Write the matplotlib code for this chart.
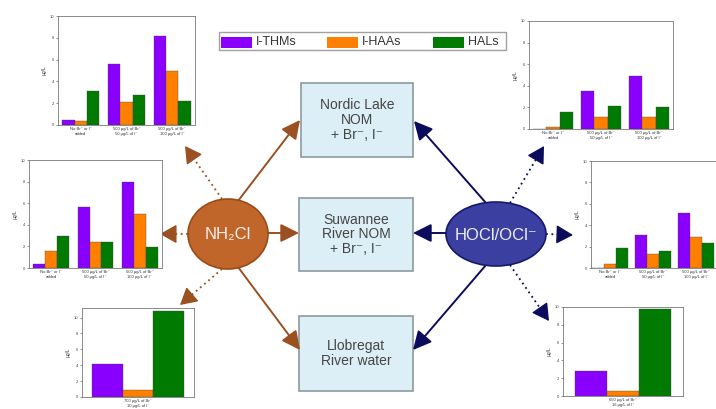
"""
plot.py
Formation of iodinated DBPs: NH2Cl vs HOCl/OCl- for three source waters.
"""
import matplotlib
matplotlib.use("Agg")
import matplotlib.pyplot as plt
from matplotlib.patches import Rectangle, Ellipse

plt.rcParams["font.family"] = ["Liberation Sans", "DejaVu Sans"]

W, H = 716, 409

# ---- data (ug/L) ----
series = ["I-THMs", "I-HAAs", "HALs"]
colors = ["#8A00FF", "#FF8000", "#007A00"]
groups = ["No Br\u207b or I\u207b\nadded",
          "500 \u00b5g/L of Br\u207b\n50 \u00b5g/L of I\u207b",
          "500 \u00b5g/L of Br\u207b\n100 \u00b5g/L of I\u207b"]
llob_nh2cl_label = ["700 \u00b5g/L of Br\u207b\n10 \u00b5g/L of I\u207b"]
llob_hocl_label = ["650 \u00b5g/L of Br\u207b\n16 \u00b5g/L of I\u207b"]

nh2cl_nordic_thm = [0.5, 5.6, 8.2]
nh2cl_nordic_haa = [0.4, 2.1, 5.0]
nh2cl_nordic_hal = [3.15, 2.75, 2.2]

hocl_nordic_thm = [0.0, 3.5, 4.95]
hocl_nordic_haa = [0.15, 1.1, 1.15]
hocl_nordic_hal = [1.6, 2.15, 2.0]

nh2cl_suw_thm = [0.4, 5.65, 8.0]
nh2cl_suw_haa = [1.55, 2.4, 5.0]
nh2cl_suw_hal = [3.0, 2.45, 1.95]

hocl_suw_thm = [0.0, 3.05, 5.1]
hocl_suw_haa = [0.4, 1.3, 2.9]
hocl_suw_hal = [1.85, 1.55, 2.3]

nh2cl_llob = [4.1, 0.85, 10.8]
hocl_llob = [2.8, 0.55, 9.8]

fig = plt.figure(figsize=(W / 100, H / 100), dpi=100)
bg = fig.add_axes([0, 0, 1, 1])
bg.set_xlim(0, W)
bg.set_ylim(H, 0)
bg.axis("off")


def px_axes(x0, y0, x1, y1):
    return fig.add_axes([x0 / W, 1 - y1 / H, (x1 - x0) / W, (y1 - y0) / H])


def style(ax, ymax, labels, xlim):
    ax.set_ylim(0, ymax)
    ax.set_xlim(*xlim)
    ax.set_yticks(range(0, 11, 2))
    ax.set_xticks(range(len(labels)))
    ax.set_xticklabels(labels, fontsize=3, color="#333333", linespacing=1.3)
    ax.tick_params(axis="y", labelsize=3, length=1.5, width=0.4, pad=1.5, colors="#444444")
    ax.tick_params(axis="x", length=0, pad=1.5)
    ax.set_ylabel("\u00b5g/L", fontsize=3.5, labelpad=2, color="#333333")
    for s in ax.spines.values():
        s.set_linewidth(0.6)
        s.set_color("#777777")


def group_chart(box, thm, haa, hal, xlim=(-0.5, 2.5), w=0.27):
    ax = px_axes(*box)
    for k, vals in enumerate([thm, haa, hal]):
        ax.bar([i + (k - 1) * w for i in range(len(vals))], vals, w,
               color=colors[k], edgecolor="#444444", linewidth=0.25)
    style(ax, 10, groups, xlim)
    return ax


def single_chart(box, vals, labels, ymax, w=0.275):
    ax = px_axes(*box)
    for k, v in enumerate(vals):
        ax.bar((k - 1) * w, v, w, color=colors[k], edgecolor="#444444", linewidth=0.25)
    style(ax, ymax, labels, (-0.5, 0.5))
    return ax


group_chart((58, 16, 195, 125), nh2cl_nordic_thm, nh2cl_nordic_haa, nh2cl_nordic_hal)
group_chart((529, 21, 673, 129), hocl_nordic_thm, hocl_nordic_haa, hocl_nordic_hal, w=0.28)
group_chart((29, 160, 162, 268), nh2cl_suw_thm, nh2cl_suw_haa, nh2cl_suw_hal)
group_chart((591, 161, 722, 268), hocl_suw_thm, hocl_suw_haa, hocl_suw_hal,
            xlim=(-0.45, 2.6), w=0.28)
single_chart((82, 308, 194, 397), nh2cl_llob, llob_nh2cl_label, 11.2)
single_chart((563, 307, 683, 396), hocl_llob, llob_hocl_label, 10, w=0.265)

# ---- legend ----
bg.add_patch(Rectangle((219, 32), 287, 18, fc="white", ec="#A0A0A0", lw=1))
for k, x in enumerate([221, 327, 433]):
    bg.add_patch(Rectangle((x, 36.5), 31, 11, fc=colors[k], ec="none"))
    bg.text(x + 35, 42, series[k], fontsize=9, color="#333333", va="center", ha="left")

# ---- water boxes ----
boxes = [((301, 83, 413, 157), "Nordic Lake\nNOM\n+ Br\u207b, I\u207b"),
         ((299, 198, 413, 271), "Suwannee\nRiver NOM\n+ Br\u207b, I\u207b"),
         ((299, 316, 413, 391), "Llobregat\nRiver water")]
for (x0, y0, x1, y1), txt in boxes:
    bg.add_patch(Rectangle((x0, y0), x1 - x0, y1 - y0, fc="#DCEEF6", ec="#8C9A9E", lw=1.2))
    bg.text((x0 + x1) / 2, (y0 + y1) / 2, txt, fontsize=10, color="#454545",
            ha="center", va="center", linespacing=1.05)

# ---- oxidant ellipses ----
bg.add_patch(Ellipse((228, 234), 80, 70, fc="#C1662B", ec="#9A4A18", lw=1.2, zorder=3))
bg.text(228, 235, "NH\u2082Cl", fontsize=12, color="#F4F0EE", ha="center", va="center", zorder=4)
bg.add_patch(Ellipse((496, 234), 100, 64, fc="#3B40A0", ec="#15186A", lw=1.2, zorder=3))
bg.text(496, 235, "HOCl/OCl\u207b", fontsize=12, color="#EEEEF4", ha="center", va="center", zorder=4)

brown = "#9A5020"
navy = "#0C0C5C"


def solid(p0, p1, c):
    bg.annotate("", xy=p1, xytext=p0,
                arrowprops=dict(arrowstyle="-|>,head_length=0.8,head_width=0.4",
                                mutation_scale=14, color=c, lw=1.4,
                                shrinkA=0, shrinkB=0), zorder=2)


def dotted(p0, p1, c):
    dx, dy = p1[0] - p0[0], p1[1] - p0[1]
    n = (dx * dx + dy * dy) ** 0.5
    q = (p1[0] - dx / n * 10, p1[1] - dy / n * 10)
    bg.plot([p0[0], q[0]], [p0[1], q[1]], color=c, lw=1.3, ls=(0, (1, 2)), zorder=2)
    bg.annotate("", xy=p1, xytext=q,
                arrowprops=dict(arrowstyle="-|>,head_length=0.8,head_width=0.45",
                                mutation_scale=13, color=c, lw=1,
                                shrinkA=0, shrinkB=0), zorder=2)


solid((238, 201), (300, 120), brown)
solid((268, 233), (299, 233), brown)
solid((238, 267), (300, 350), brown)
solid((486, 203), (414, 121), navy)
solid((446, 233), (413, 233), navy)
solid((486, 265), (413, 350), navy)

dotted((222, 199), (185, 146), brown)
dotted((188, 234), (160, 234), brown)
dotted((222, 269), (180, 305), brown)
dotted((510, 203), (544, 146), navy)
dotted((546, 234), (573, 235), navy)
dotted((510, 265), (549, 321), navy)

fig.savefig("out.png", dpi=100)
